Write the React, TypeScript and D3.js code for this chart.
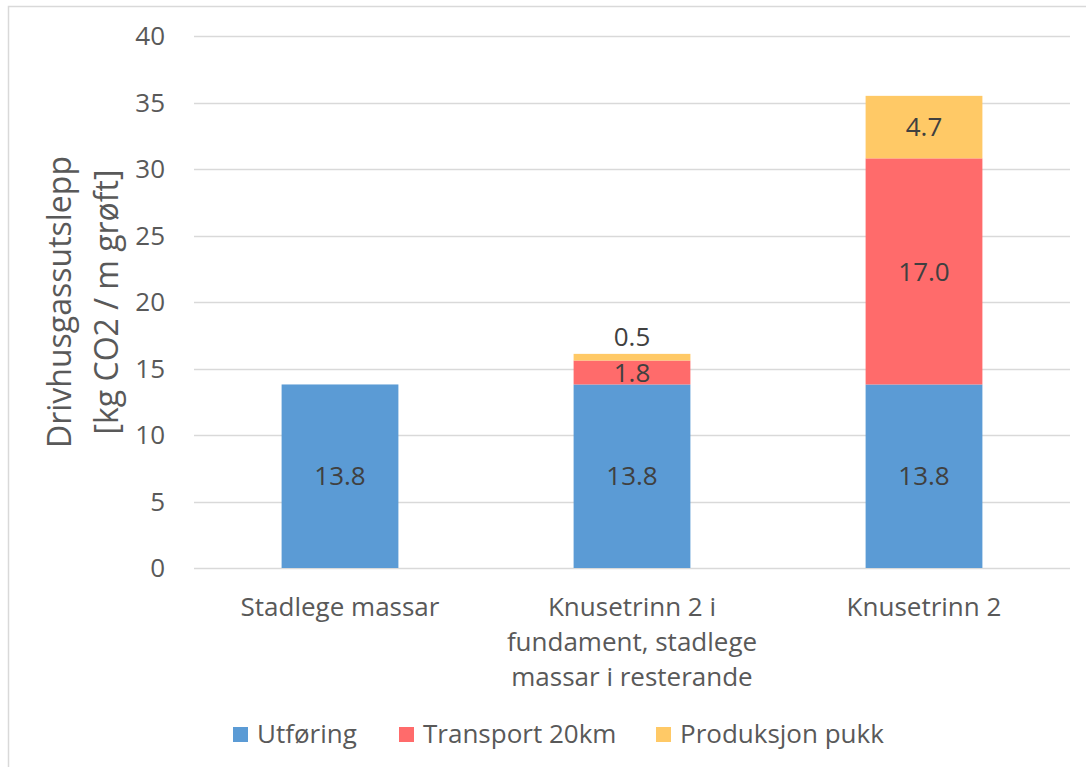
import React from "react";
import * as d3 from "d3";

const categories = [
  "Stadlege massar",
  "Knusetrinn 2 i fundament, stadlege massar i resterande",
  "Knusetrinn 2",
];
const categoryLines = [
  ["Stadlege massar"],
  ["Knusetrinn 2 i", "fundament, stadlege", "massar i resterande"],
  ["Knusetrinn 2"],
];
const seriesNames = ["Utføring", "Transport 20km", "Produksjon pukk"];
const utforing = [13.8, 13.8, 13.8];
const transport = [0, 1.8, 17.0];
const produksjon = [0, 0.5, 4.7];
const seriesColors = ["#5B9BD5", "#FF6B6B", "#FFC966"];
const yTicks = [0, 5, 10, 15, 20, 25, 30, 35, 40];
const yTitle = ["Drivhusgassutslepp", "[kg CO2 / m grøft]"];

const W = 1086;
const H = 767;
const plot = { left: 194, right: 1070, top: 36, bottom: 568 };
const FONT = "'Open Sans', sans-serif";

export default function App() {
  const x = d3
    .scaleBand<string>()
    .domain(categories)
    .range([plot.left, plot.right])
    .paddingInner(0.6)
    .paddingOuter(0.3);
  const y = d3.scaleLinear().domain([0, 40]).range([plot.bottom, plot.top]);

  const table = categories.map((c, i) => ({
    cat: c,
    [seriesNames[0]]: utforing[i],
    [seriesNames[1]]: transport[i],
    [seriesNames[2]]: produksjon[i],
  }));
  const stack = d3.stack<any>().keys(seriesNames)(table);

  const legendX = [233, 399, 656];

  return (
    <svg
      width={W}
      height={H}
      style={{ position: "absolute", left: 0, top: 0, background: "#fff" }}
      fontFamily={FONT}
    >
      <rect x={8.5} y={6.5} width={1200} height={900} fill="#fff" stroke="#d9d9d9" strokeWidth={1.5} />
      {yTicks.map((t) => (
        <g key={t}>
          <line
            x1={plot.left}
            x2={plot.right}
            y1={Math.round(y(t)) + 0.5}
            y2={Math.round(y(t)) + 0.5}
            stroke="#d9d9d9"
            strokeWidth={1.5}
          />
          <text
            x={165}
            y={y(t)}
            dy="0.35em"
            textAnchor="end"
            fontSize={26}
            fill="#595959"
          >
            {t}
          </text>
        </g>
      ))}
      {stack.map((s, si) =>
        s.map((d, i) => {
          const v = d[1] - d[0];
          if (v <= 0) return null;
          return (
            <rect
              key={`${si}-${i}`}
              x={x(categories[i])}
              width={x.bandwidth()}
              y={y(d[1])}
              height={y(d[0]) - y(d[1])}
              fill={seriesColors[si]}
            />
          );
        })
      )}
      {stack.map((s, si) =>
        s.map((d, i) => {
          const v = d[1] - d[0];
          if (v <= 0) return null;
          const cx = (x(categories[i]) as number) + x.bandwidth() / 2;
          const small = y(d[0]) - y(d[1]) < 20;
          const cy = small && si === 2 ? y(d[1]) - 17 : (y(d[0]) + y(d[1])) / 2;
          return (
            <text
              key={`l${si}-${i}`}
              x={cx}
              y={cy}
              dy="0.35em"
              textAnchor="middle"
              fontSize={26}
              fill="#404040"
            >
              {v.toFixed(1)}
            </text>
          );
        })
      )}
      {categoryLines.map((lines, i) => (
        <text
          key={i}
          x={(x(categories[i]) as number) + x.bandwidth() / 2}
          textAnchor="middle"
          fontSize={26}
          fill="#595959"
        >
          {lines.map((l, j) => (
            <tspan key={j} x={(x(categories[i]) as number) + x.bandwidth() / 2} y={616 + j * 35}>
              {l}
            </tspan>
          ))}
        </text>
      ))}
      <g transform={`translate(0, ${(plot.top + plot.bottom) / 2}) rotate(-90)`}>
        {yTitle.map((t, j) => (
          <text key={t} x={0} y={71 + j * 47} textAnchor="middle" fontSize={32} fill="#595959">
            {t}
          </text>
        ))}
      </g>
      {seriesNames.map((n, i) => (
        <g key={n}>
          <rect x={legendX[i]} y={727} width={15} height={15} fill={seriesColors[i]} />
          <text x={legendX[i] + 24} y={743} fontSize={26} fill="#595959">
            {n}
          </text>
        </g>
      ))}
    </svg>
  );
}
